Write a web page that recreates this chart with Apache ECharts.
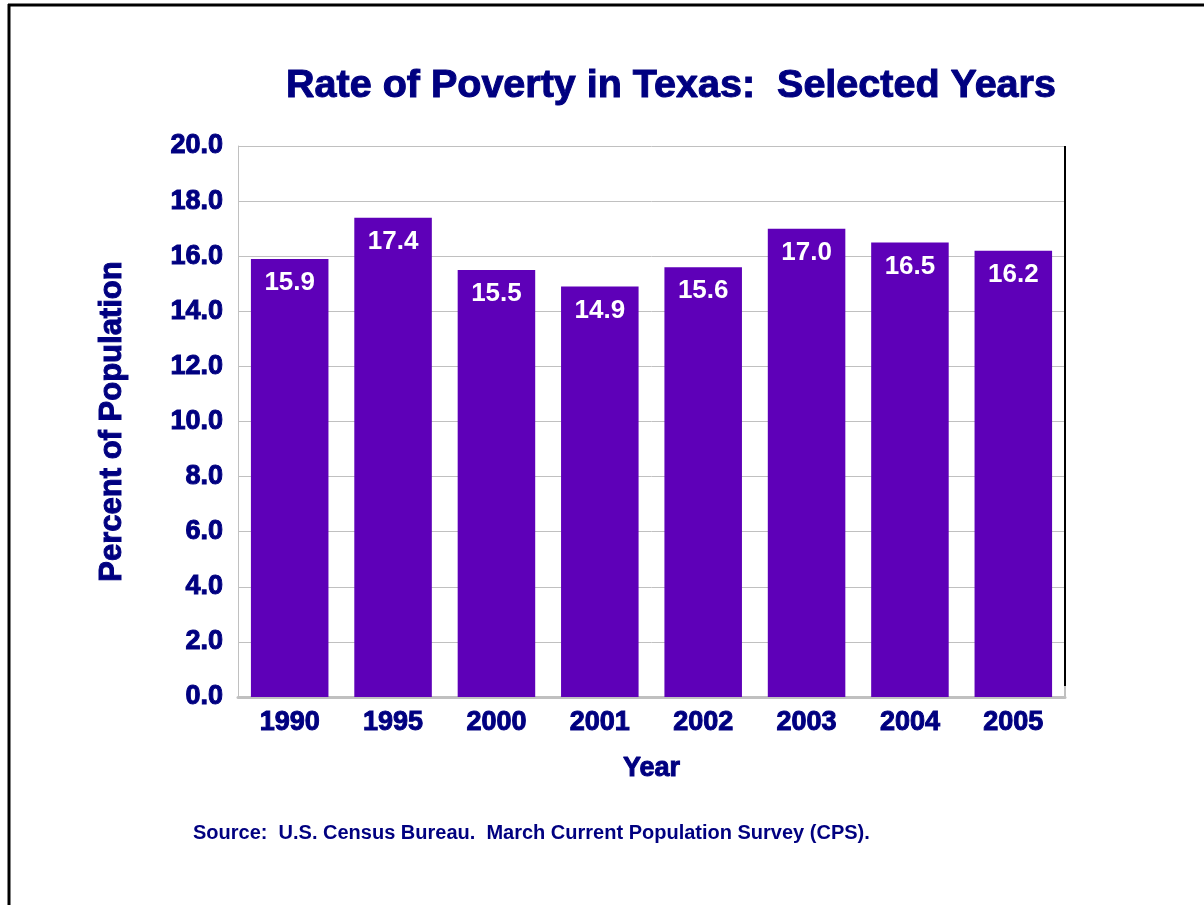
<!DOCTYPE html>
<html>
<head>
<meta charset="utf-8">
<title>Rate of Poverty in Texas</title>
<script src="https://cdn.jsdelivr.net/npm/echarts@6/dist/echarts.min.js"></script>
<style>
  html, body { margin: 0; padding: 0; background: #ffffff; }
  #chart { width: 1204px; height: 905px; }
</style>
</head>
<body>
<div id="chart"></div>
<script>
// Poverty rate (percent of population) by year
const years = ['1990', '1995', '2000', '2001', '2002', '2003', '2004', '2005'];
const povertyRate = [15.9, 17.4, 15.5, 14.9, 15.6, 17.0, 16.5, 16.2];
const yTicks = { min: 0, max: 20, interval: 2 };

const titleText = 'Rate of Poverty in Texas:  Selected Years';
const sourceText = 'Source:  U.S. Census Bureau.  March Current Population Survey (CPS).';

const navy = '#000080';
const barColor = '#5e00b8';
const gridGray = '#c0c0c0';
const font = '"Liberation Sans", Arial, sans-serif';

// heavy navy text: bold face plus a thin outline in the same colour
const heavy = (size) => ({
  color: navy, fontFamily: font, fontWeight: 'bold', fontSize: size,
  textBorderColor: navy, textBorderWidth: 1
});

const chart = echarts.init(document.getElementById('chart'), null, { renderer: 'canvas' });

const gridBox = { left: 238, top: 146, right: 139, bottom: 208 };
const plotRight = 1204 - gridBox.right;
const plotBottom = 905 - gridBox.bottom;

chart.setOption({
  backgroundColor: '#ffffff',
  animation: false,
  title: {
    text: titleText,
    left: 666,
    top: 61,
    textAlign: 'center',
    textStyle: heavy(39.5)
  },
  grid: gridBox,
  xAxis: {
    type: 'category',
    data: years,
    name: 'Year',
    nameLocation: 'middle',
    nameGap: 58,
    nameTextStyle: heavy(27),
    axisLine: { lineStyle: { color: gridGray, width: 3 } },
    axisTick: { inside: true, length: 11, lineStyle: { color: gridGray, width: 1 } },
    axisLabel: Object.assign(heavy(27), { margin: 12 })
  },
  yAxis: {
    type: 'value',
    min: yTicks.min,
    max: yTicks.max,
    interval: yTicks.interval,
    name: 'Percent of Population',
    nameLocation: 'middle',
    nameRotate: 90,
    nameGap: 110,
    nameTextStyle: heavy(31),
    axisLine: { show: true, lineStyle: { color: gridGray, width: 1 } },
    axisTick: { show: false },
    splitLine: { lineStyle: { color: gridGray, width: 1 } },
    axisLabel: Object.assign(heavy(27), {
      margin: 15,
      formatter: v => v.toFixed(1)
    })
  },
  series: [{
    type: 'bar',
    data: povertyRate,
    barCategoryGap: '25%',
    itemStyle: { color: barColor },
    label: {
      show: true,
      position: 'insideTop',
      distance: 11,
      color: '#ffffff',
      fontFamily: font,
      fontWeight: 'bold',
      fontSize: 26,
      formatter: p => p.value.toFixed(1)
    },
    z: 3
  }],
  graphic: [
    // page frame
    { type: 'line', shape: { x1: 8, y1: 5, x2: 1204, y2: 5 }, style: { stroke: '#000', lineWidth: 3 } },
    { type: 'line', shape: { x1: 9, y1: 4, x2: 9, y2: 905 }, style: { stroke: '#000', lineWidth: 3 } },
    // right edge of plot box
    { type: 'line', shape: { x1: plotRight, y1: gridBox.top, x2: plotRight, y2: plotBottom - 11 }, style: { stroke: '#000', lineWidth: 2 }, z: 10 },
    { type: 'line', shape: { x1: plotRight, y1: plotBottom - 11, x2: plotRight, y2: plotBottom }, style: { stroke: gridGray, lineWidth: 2 }, z: 10 },
    // source note
    {
      type: 'text', left: 193, top: 823, z: 10,
      style: {
        text: sourceText, fill: navy,
        font: 'bold 20px "Liberation Sans", Arial, sans-serif'
      }
    }
  ]
});
</script>
</body>
</html>
